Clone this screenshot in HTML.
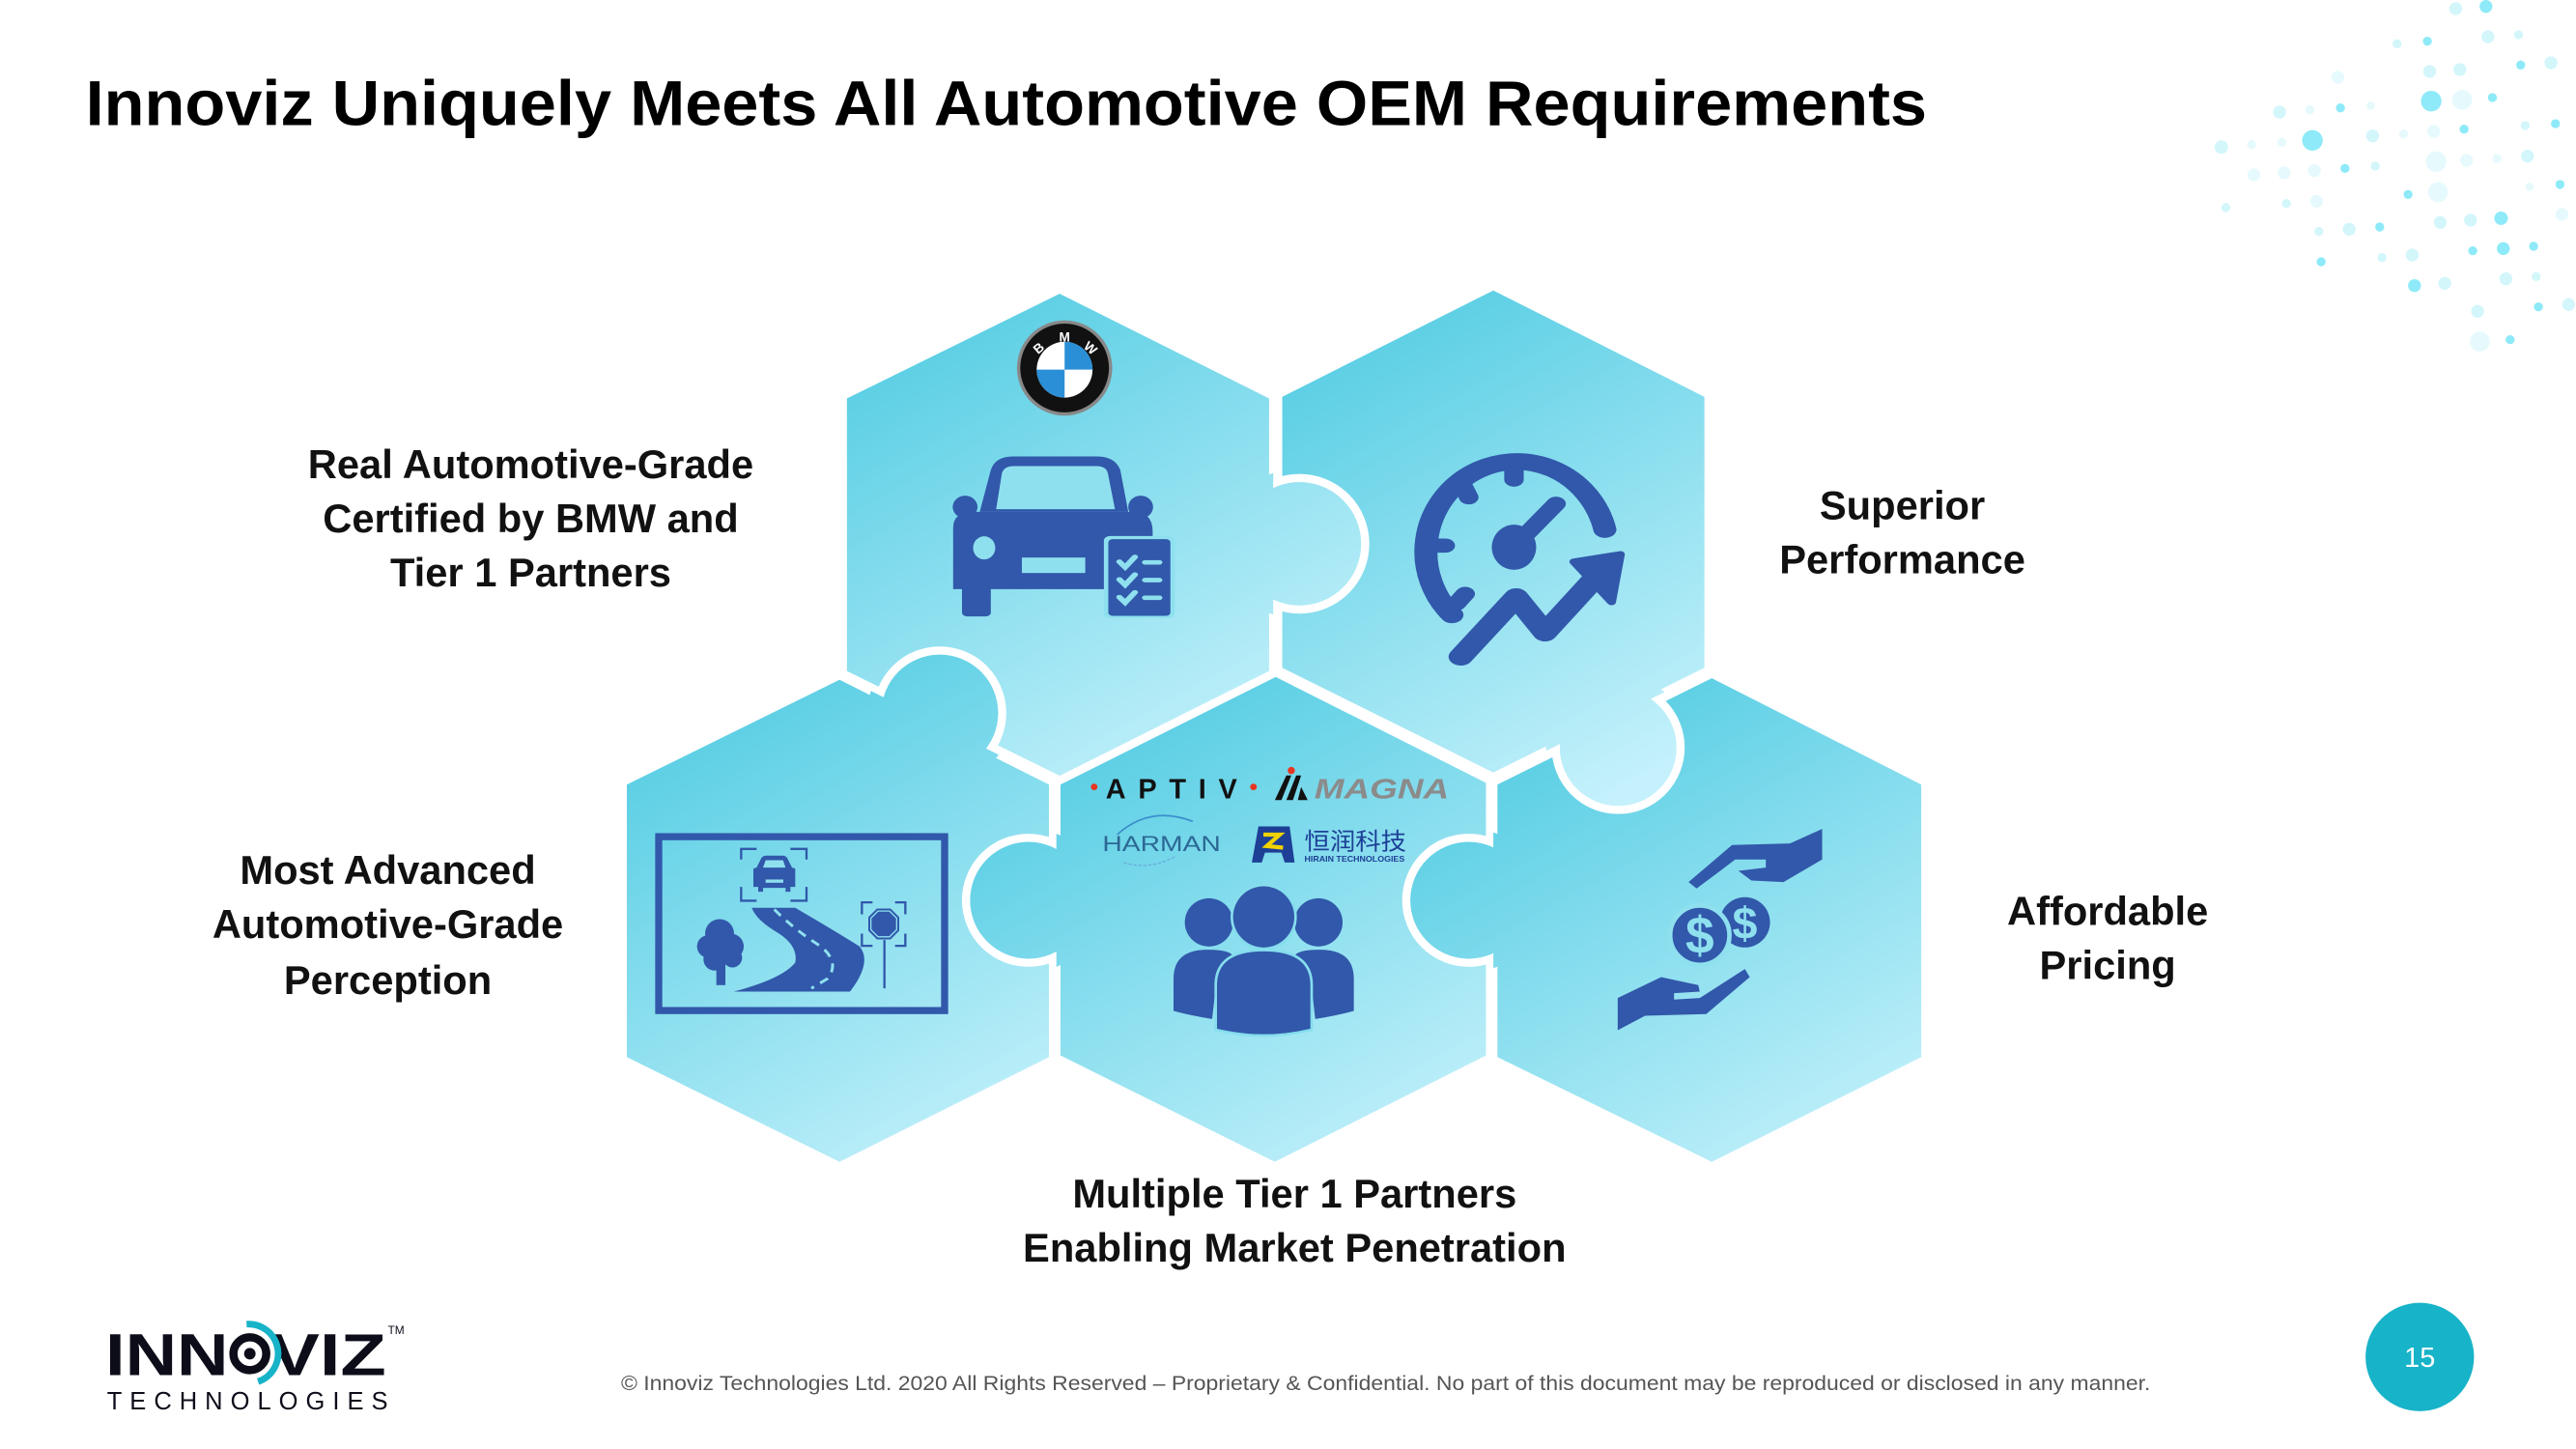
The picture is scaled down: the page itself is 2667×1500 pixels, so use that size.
<!DOCTYPE html>
<html><head><meta charset="utf-8"><style>
html,body{margin:0;padding:0;background:#fff;}
svg{display:block;}
text{font-family:"Liberation Sans","Noto Sans CJK SC",sans-serif;}
</style></head><body>
<svg width="2667" height="1500" viewBox="0 0 1568 882" xmlns="http://www.w3.org/2000/svg">
<defs>
<linearGradient id="gTL" gradientUnits="userSpaceOnUse" x1="560" y1="190" x2="720" y2="480"><stop offset="0" stop-color="#56cde3"/><stop offset="1" stop-color="#c4f1fb"/></linearGradient>
<linearGradient id="gTR" gradientUnits="userSpaceOnUse" x1="825" y1="190" x2="985" y2="480"><stop offset="0" stop-color="#56cde3"/><stop offset="1" stop-color="#c4f1fb"/></linearGradient>
<linearGradient id="gBL" gradientUnits="userSpaceOnUse" x1="425" y1="425" x2="585" y2="715"><stop offset="0" stop-color="#56cde3"/><stop offset="1" stop-color="#c4f1fb"/></linearGradient>
<linearGradient id="gBM" gradientUnits="userSpaceOnUse" x1="690" y1="425" x2="850" y2="715"><stop offset="0" stop-color="#56cde3"/><stop offset="1" stop-color="#c4f1fb"/></linearGradient>
<linearGradient id="gBR" gradientUnits="userSpaceOnUse" x1="955" y1="425" x2="1115" y2="715"><stop offset="0" stop-color="#56cde3"/><stop offset="1" stop-color="#c4f1fb"/></linearGradient>
<clipPath id="c1"><circle cx="791" cy="331" r="46"/></clipPath>
<clipPath id="c2"><circle cx="572" cy="434" r="44"/></clipPath>
<clipPath id="c3"><circle cx="985" cy="455" r="44"/></clipPath>
<clipPath id="c4"><circle cx="626" cy="548" r="44"/></clipPath>
<clipPath id="c5"><circle cx="894" cy="548" r="44"/></clipPath>
</defs>

<!-- title -->
<text x="52" y="76" font-size="39" font-weight="bold" fill="#000" textLength="1121" lengthAdjust="spacingAndGlyphs">Innoviz Uniquely Meets All Automotive OEM Requirements</text>

<!-- dots -->
<g transform="translate(1322.8,0) scale(0.19597)">
<g fill="#d3f6fb">
<circle cx="878" cy="27" r="20"/><circle cx="696" cy="136" r="14"/><circle cx="978" cy="114" r="20"/><circle cx="1073" cy="108" r="14"/><circle cx="797" cy="222" r="20"/><circle cx="891" cy="216" r="20"/><circle cx="1174" cy="195" r="20"/><circle cx="331" cy="348" r="20"/><circle cx="150" cy="457" r="21"/><circle cx="620" cy="422" r="20"/><circle cx="1094" cy="390" r="14"/><circle cx="628" cy="516" r="14"/><circle cx="1101" cy="485" r="20"/><circle cx="164" cy="645" r="14"/><circle cx="352" cy="632" r="14"/><circle cx="453" cy="719" r="14"/><circle cx="547" cy="712" r="20"/><circle cx="830" cy="691" r="20"/><circle cx="924" cy="684" r="20"/><circle cx="649" cy="800" r="14"/><circle cx="743" cy="792" r="20"/><circle cx="844" cy="880" r="20"/><circle cx="1034" cy="866" r="20"/><circle cx="1128" cy="859" r="14"/><circle cx="946" cy="967" r="20"/><circle cx="1229" cy="946" r="20"/>
</g>
<g fill="#e6fafd">
<circle cx="512" cy="240" r="20"/><circle cx="425" cy="341" r="14"/><circle cx="614" cy="328" r="13"/><circle cx="898" cy="310" r="31"/><circle cx="244" cy="449" r="14"/><circle cx="338" cy="442" r="14"/><circle cx="716" cy="416" r="14"/><circle cx="810" cy="408" r="20"/><circle cx="251" cy="543" r="20"/><circle cx="345" cy="537" r="20"/><circle cx="439" cy="530" r="20"/><circle cx="817" cy="502" r="32"/><circle cx="912" cy="498" r="20"/><circle cx="1006" cy="492" r="14"/><circle cx="446" cy="625" r="20"/><circle cx="823" cy="597" r="31"/><circle cx="1107" cy="580" r="13"/><circle cx="1208" cy="666" r="20"/><circle cx="953" cy="1061" r="31"/>
</g>
<g fill="#8eeaf8">
<circle cx="972" cy="20" r="20"/><circle cx="790" cy="128" r="14"/><circle cx="1080" cy="202" r="14"/><circle cx="520" cy="335" r="14"/><circle cx="802" cy="314" r="32"/><circle cx="992" cy="303" r="14"/><circle cx="433" cy="436" r="32"/><circle cx="904" cy="401" r="14"/><circle cx="1188" cy="384" r="14"/><circle cx="534" cy="523" r="14"/><circle cx="730" cy="604" r="14"/><circle cx="1202" cy="573" r="14"/><circle cx="642" cy="705" r="14"/><circle cx="1019" cy="678" r="21"/><circle cx="460" cy="813" r="14"/><circle cx="931" cy="779" r="14"/><circle cx="1026" cy="772" r="20"/><circle cx="1120" cy="765" r="14"/><circle cx="750" cy="887" r="20"/><circle cx="1135" cy="953" r="14"/><circle cx="1047" cy="1055" r="14"/>
</g>
</g>

<!-- hexagons -->
<g stroke="#fff" stroke-width="5" stroke-linejoin="round">
<polygon fill="url(#gBL)" points="511,411 641,476 641,645 511,710 379,645 379,476"/>
<polygon fill="url(#gBM)" points="776,409 907,475 907,644 776,710 643,644 643,475"/>
<polygon fill="url(#gBR)" points="1042,410 1172,476 1172,645 1042,710 909,645 909,476"/>
<polygon fill="url(#gTR)" points="909,174 1040,240 1040,408 909,473 778,408 778,240"/>
<polygon fill="url(#gTL)" points="645,176 775,241 775,410 645,475 513,410 513,241"/>
<circle cx="791" cy="331" r="40" fill="url(#gTL)"/>
<circle cx="572" cy="434" r="38" fill="url(#gBL)"/>
<circle cx="985" cy="455" r="38" fill="url(#gTR)"/>
<circle cx="626" cy="548" r="38" fill="url(#gBM)"/>
<circle cx="894" cy="548" r="38" fill="url(#gBR)"/>
</g>
<g stroke="none">
<circle cx="791" cy="331" r="37.5" fill="url(#gTL)"/>
<circle cx="572" cy="434" r="35.5" fill="url(#gBL)"/>
<circle cx="985" cy="455" r="35.5" fill="url(#gTR)"/>
<circle cx="626" cy="548" r="35.5" fill="url(#gBM)"/>
<circle cx="894" cy="548" r="35.5" fill="url(#gBR)"/>
<polygon clip-path="url(#c1)" fill="url(#gTL)" points="645,176 775,241 775,410 645,475 513,410 513,241"/>
<polygon clip-path="url(#c2)" fill="url(#gBL)" points="511,411 641,476 641,645 511,710 379,645 379,476"/>
<polygon clip-path="url(#c3)" fill="url(#gTR)" points="909,174 1040,240 1040,408 909,473 778,408 778,240"/>
<polygon clip-path="url(#c4)" fill="url(#gBM)" points="776,409 907,475 907,644 776,710 643,644 643,475"/>
<polygon clip-path="url(#c5)" fill="url(#gBR)" points="1042,410 1172,476 1172,645 1042,710 909,645 909,476"/>
</g>

<!-- BMW -->
<circle cx="648" cy="224" r="29" fill="#888"/>
<circle cx="648" cy="224" r="27" fill="#111"/>
<circle cx="648" cy="225" r="17" fill="#fff"/>
<path d="M648,225 L648,208 A17,17 0 0 1 665,225 Z" fill="#2a8fd6"/>
<path d="M648,225 L648,242 A17,17 0 0 1 631,225 Z" fill="#2a8fd6"/>
<text x="648" y="208" font-size="8" fill="#fff" text-anchor="middle" font-weight="bold">M</text>
<text x="634" y="214" font-size="8" fill="#fff" text-anchor="middle" font-weight="bold" transform="rotate(-40 634 214)">B</text>
<text x="662" y="214" font-size="8" fill="#fff" text-anchor="middle" font-weight="bold" transform="rotate(40 662 214)">W</text>

<!-- car icon -->
<g transform="translate(576.1,264.5) scale(0.2699,0.196)" fill="#3158aa">
<path d="M75,240 L100,110 Q110,68 150,68 L340,68 Q380,68 392,110 L410,240 Z"/>
<path d="M112,232 L125,120 Q130,98 152,98 L338,98 Q360,98 364,120 L380,232 Z" fill="#8fe0ef"/>
<ellipse cx="42" cy="225" rx="28" ry="35"/><ellipse cx="438" cy="225" rx="28" ry="35"/>
<path d="M15,290 Q15,240 60,240 L420,240 Q465,240 465,300 L465,480 L15,480 Z"/>
<rect x="35" y="460" width="65" height="105" rx="12"/>
<ellipse cx="85" cy="352" rx="25" ry="36" fill="#8fe0ef"/>
<rect x="170" y="382" width="143" height="48" fill="#8fe0ef"/>
<rect x="355" y="315" width="160" height="255" rx="14" fill="#8fe0ef"/>
<rect x="365" y="325" width="140" height="238" rx="10"/>
<g stroke="#8fe0ef" stroke-width="14" fill="none" stroke-linecap="round">
<polyline points="390,395 403,412 425,380"/><polyline points="390,450 403,467 425,435"/><polyline points="390,505 403,522 425,490"/>
<line x1="448" y1="397" x2="480" y2="397"/><line x1="448" y1="452" x2="480" y2="452"/><line x1="448" y1="507" x2="480" y2="507"/>
</g>
</g>

<!-- speedometer icon -->
<g transform="translate(576.1,264.5) scale(0.2699,0.196)" fill="#3158aa" stroke="#3158aa">
<path d="M1140,560 A205,280 0 1 1 1485,295" fill="none" stroke-width="52" stroke-linecap="round"/>
<g stroke-width="44" stroke-linecap="round">
<line x1="1280" y1="95" x2="1280" y2="140"/>
<line x1="1100" y1="345" x2="1125" y2="345"/>
<line x1="1165" y1="160" x2="1178" y2="195"/>
<line x1="1170" y1="495" x2="1150" y2="525"/>
<line x1="1300" y1="320" x2="1375" y2="215"/>
</g>
<ellipse cx="1280" cy="350" rx="50" ry="70" stroke="none"/>
<polyline points="1160,690 1285,505 1350,615 1460,450" fill="none" stroke-width="55" stroke-linejoin="round" stroke-linecap="round"/>
<polygon points="1415,395 1520,372 1500,520" stroke-width="20" stroke-linejoin="round"/>
</g>

<!-- road frame icon -->
<g transform="translate(382.1,493.8) scale(0.196)" fill="#3158aa">
<rect x="96" y="79" width="888" height="540" fill="none" stroke="#3158aa" stroke-width="22"/>
<path d="M385,300 L520,300 Q640,370 720,420 Q760,470 690,560 L330,560 Q480,520 520,470 Q530,420 470,380 Q400,340 385,300 Z"/>
<g stroke="#8fe0ef" stroke-width="9" stroke-dasharray="28,22" fill="none"><path d="M455,305 Q520,370 600,420 Q660,470 620,520 L570,550"/></g>
<circle cx="285" cy="380" r="45"/><circle cx="250" cy="420" r="35"/><circle cx="320" cy="420" r="40"/><circle cx="270" cy="460" r="35"/><circle cx="325" cy="455" r="30"/>
<rect x="275" y="450" width="28" height="90"/>
<g fill="none" stroke="#3158aa" stroke-width="7">
<path d="M352,150 V117 H400 M505,117 H555 V150 M555,235 V278 H505 M400,278 H352 V235"/>
<path d="M727,320 V283 H760 M830,283 H862 V320 M862,380 V418 H830 M760,418 H727 V380"/>
<polygon points="775,305 815,305 840,330 840,370 815,395 775,395 750,370 750,330" stroke="#3158aa" stroke-width="6"/>
<line x1="797" y1="400" x2="797" y2="550"/>
</g>
<polygon points="778,312 812,312 833,333 833,367 812,388 778,388 757,367 757,333"/>
<path d="M400,175 L415,145 Q420,138 430,138 L480,138 Q490,138 495,145 L510,175 L520,178 L520,235 L505,235 L505,250 L490,250 L490,238 L420,238 L420,250 L405,250 L405,235 L390,235 L390,178 Z"/>
<path d="M420,175 L428,152 L482,152 L490,175 Z" fill="#8fe0ef"/>
<rect x="428" y="212" width="55" height="10" fill="#8fe0ef"/>
</g>

<!-- logos -->
<circle cx="666" cy="479" r="2" fill="#e8351f"/>
<text x="673" y="486" font-size="17" font-weight="bold" fill="#111" textLength="80" lengthAdjust="spacing">APTIV</text>
<circle cx="763" cy="479" r="2" fill="#e8351f"/>
<polygon points="776,487 783,472 786,472 780,487" fill="#111"/><polygon points="783,487 789,472 792,472 787,487" fill="#111"/><polygon points="790,487 792,479 796,487" fill="#111"/>
<circle cx="786" cy="469" r="2.2" fill="#e8351f"/>
<text x="800" y="486" font-size="17" font-weight="bold" font-style="italic" fill="#8b8b8b" textLength="82" lengthAdjust="spacingAndGlyphs">MAGNA</text>
<path d="M680,508 Q700,490 726,500" stroke="#3a8fcc" stroke-width="1" fill="none"/>
<text x="671" y="518" font-size="13" fill="#2c6895" textLength="72" lengthAdjust="spacingAndGlyphs">HARMAN</text>
<path d="M684,525 Q700,530 716,521" stroke="#6aaedb" stroke-width="0.8" fill="none" stroke-dasharray="2,1"/>
<polygon points="762,525 766,503 785,503 788,525 782,525 780,519 770,519 768,525" fill="#1d3f96"/>
<path d="M769,508 L779,508 L771,515 L781,516" stroke="#f2d200" stroke-width="2.5" fill="none"/>
<text x="794" y="517" font-size="14.5" fill="#1d3f96" font-family="'Noto Sans CJK SC',sans-serif" textLength="62" lengthAdjust="spacingAndGlyphs">恒润科技</text>
<text x="794" y="524.5" font-size="5" font-weight="bold" fill="#1d3f96" textLength="61" lengthAdjust="spacingAndGlyphs">HIRAIN TECHNOLOGIES</text>

<!-- people -->
<g transform="translate(705.5,529.1) scale(0.196)" fill="#3158aa">
<circle cx="155" cy="165" r="75"/><circle cx="495" cy="165" r="75"/>
<path d="M45,440 L45,340 Q45,250 150,250 Q220,250 230,270 L180,330 L165,465 Q100,455 45,440 Z"/>
<path d="M605,440 L605,340 Q605,250 500,250 Q430,250 420,270 L470,330 L485,465 Q550,455 605,440 Z"/>
<g stroke="#86dded" stroke-width="16" paint-order="stroke">
<circle cx="325" cy="148" r="95"/>
<path d="M180,495 L180,360 Q180,255 325,255 Q470,255 470,360 L470,495 Q325,530 180,495 Z"/>
</g>
</g>

<!-- money -->
<g transform="translate(975.9,493.8) scale(0.196)" fill="#3158aa">
<polygon points="680,55 680,150 560,220 460,215 420,185 505,175 505,150 410,150 290,240 265,220 400,105 580,100"/>
<polygon points="45,580 45,680 130,635 320,630 455,515 440,490 300,580 220,585 220,565 300,560 295,540 180,515"/>
<circle cx="440" cy="345" r="78"/>
<circle cx="300" cy="385" r="92" stroke="#8fe0ef" stroke-width="14"/>
<text x="300" y="440" font-size="160" font-weight="bold" fill="#8fe0ef" text-anchor="middle">$</text>
<text x="440" y="395" font-size="140" font-weight="bold" fill="#8fe0ef" text-anchor="middle">$</text>
</g>

<!-- labels -->
<g font-size="24.5" font-weight="bold" fill="#111" text-anchor="middle">
<text x="323" y="291">Real Automotive-Grade</text>
<text x="323" y="324">Certified by BMW and</text>
<text x="323" y="357">Tier 1 Partners</text>
<text x="1158" y="316">Superior</text>
<text x="1158" y="349">Performance</text>
<text x="236" y="538">Most Advanced</text>
<text x="236" y="571">Automotive-Grade</text>
<text x="236" y="605">Perception</text>
<text x="1283" y="563">Affordable</text>
<text x="1283" y="596">Pricing</text>
<text x="788" y="735">Multiple Tier 1 Partners</text>
<text x="788" y="768">Enabling Market Penetration</text>
</g>

<!-- footer -->
<text x="378" y="846" font-size="12.5" fill="#555" textLength="931" lengthAdjust="spacingAndGlyphs">© Innoviz Technologies Ltd. 2020 All Rights Reserved – Proprietary &amp; Confidential. No part of this document may be reproduced or disclosed in any manner.</text>
<circle cx="1473" cy="826" r="33" fill="#17b3c8"/>
<text x="1473" y="832" font-size="17" fill="#fff" text-anchor="middle">15</text>

<!-- logo -->
<text x="64" y="837" font-size="36" font-weight="bold" fill="#0d0d1a" textLength="75" lengthAdjust="spacingAndGlyphs">INN</text>
<text x="164" y="837" font-size="36" font-weight="bold" fill="#0d0d1a" textLength="71" lengthAdjust="spacingAndGlyphs">VIZ</text>
<circle cx="152" cy="824" r="10" fill="none" stroke="#0d0d1a" stroke-width="5"/>
<circle cx="152" cy="824" r="3.5" fill="#0d0d1a"/>
<path d="M150,806 A18,18 0 0 1 157,841" fill="none" stroke="#17b3c8" stroke-width="4"/>
<text x="236" y="812" font-size="7" fill="#0d0d1a">TM</text>
<text x="65" y="858" font-size="15" fill="#0d0d1a" textLength="171" lengthAdjust="spacing">TECHNOLOGIES</text>
</svg>
</body></html>
